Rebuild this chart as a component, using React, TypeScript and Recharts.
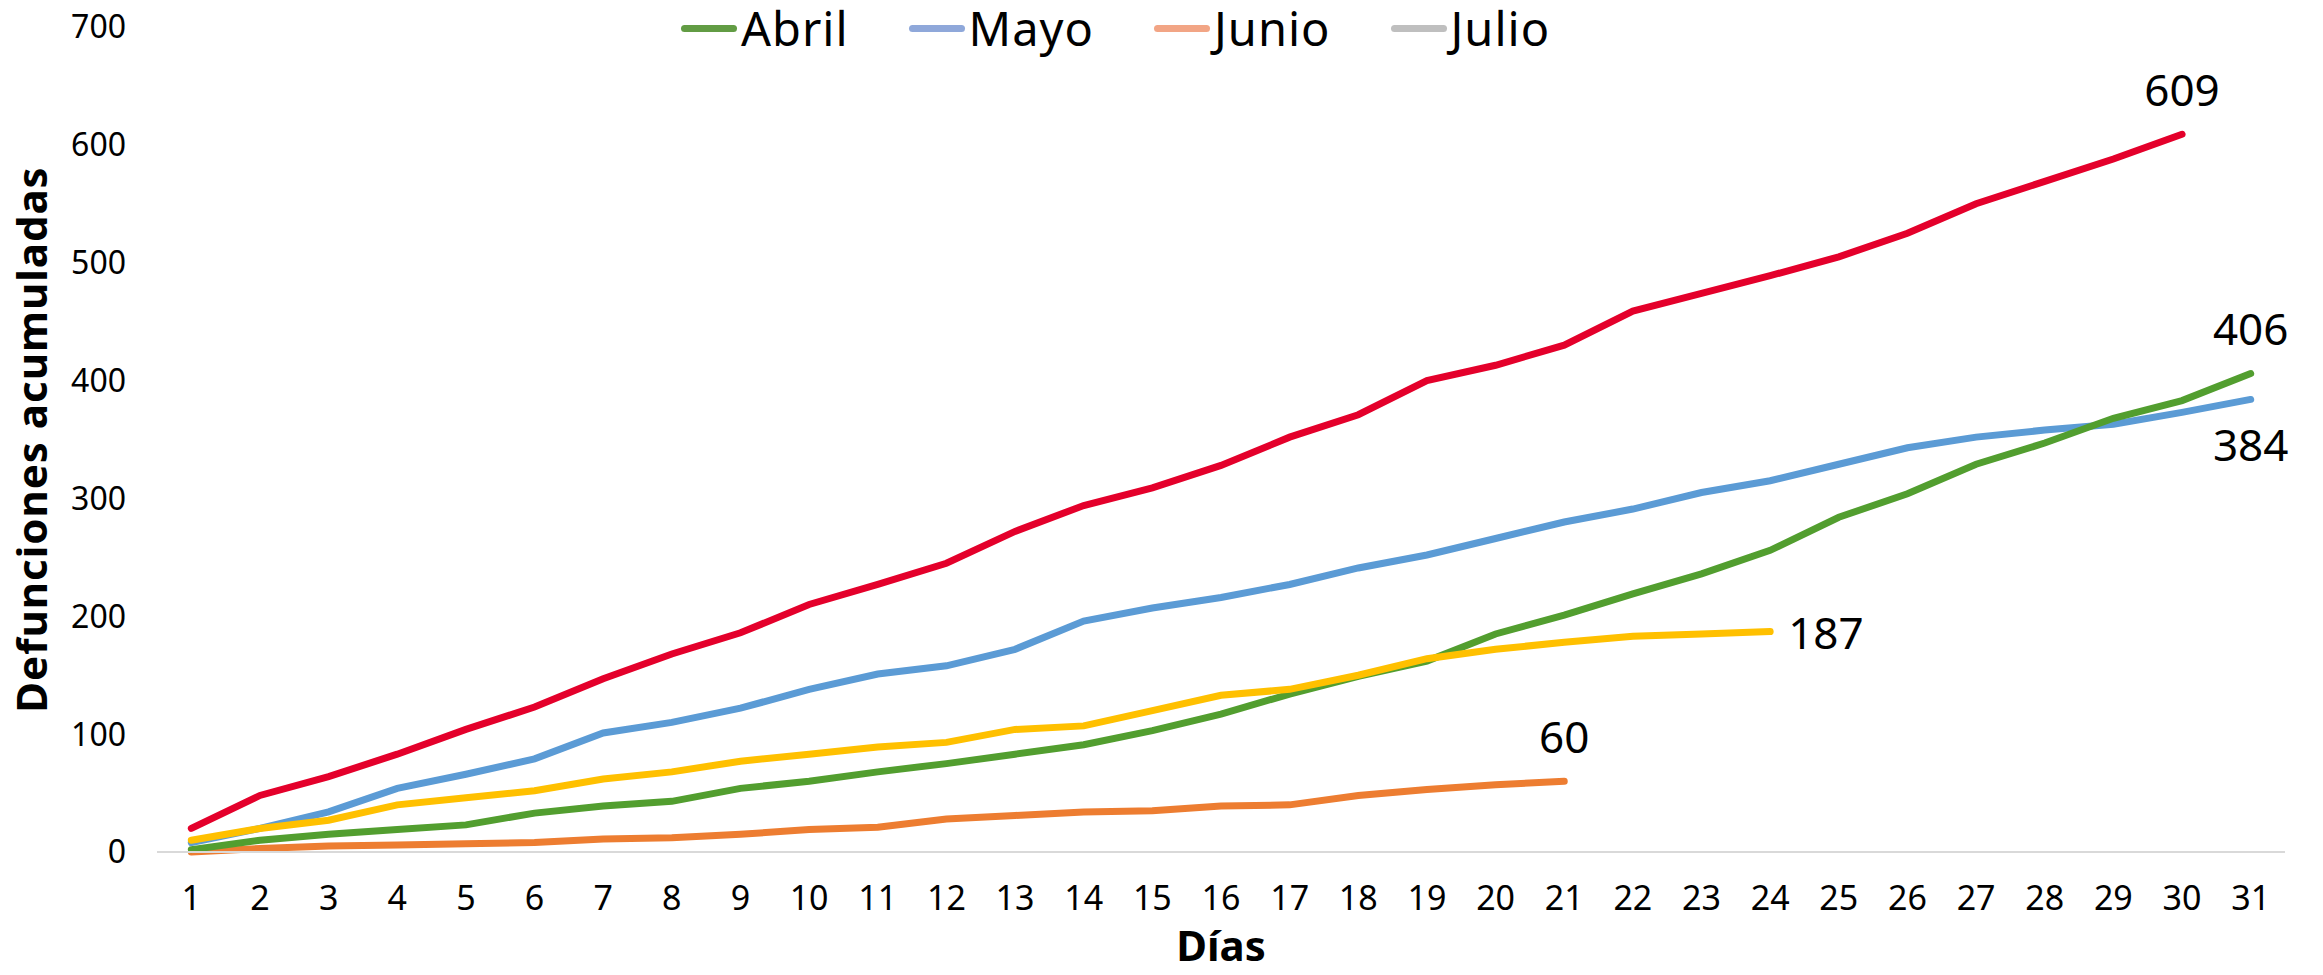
import { LineChart, Line, XAxis, YAxis, LabelList } from 'recharts';

const days = Array.from({ length: 31 }, (_, i) => i + 1);
const yTicks = [0, 100, 200, 300, 400, 500, 600, 700];

// series (cumulative deaths per day)
const abril = [2, 10, 15, 19, 23, 33, 39, 43, 54, 60, 68, 75, 83, 91, 103, 117, 134, 149, 162, 185, 201, 219, 236, 256, 284, 304, 329, 347, 368, 383, 406];
const mayo = [8, 20, 34, 54, 66, 79, 101, 110, 122, 138, 151, 158, 172, 196, 207, 216, 227, 241, 252, 266, 280, 291, 305, 315, 329, 343, 352, 358, 363, 373, 384];
const junio = [0, 3, 5, 6, 7, 8, 11, 12, 15, 19, 21, 28, 31, 34, 35, 39, 40, 48, 53, 57, 60];
const amarilla = [10, 20, 27, 40, 46, 52, 62, 68, 77, 83, 89, 93, 104, 107, 120, 133, 138, 150, 164, 172, 178, 183, 185, 187];
const roja = [20, 48, 64, 83, 104, 123, 147, 168, 186, 210, 227, 245, 272, 294, 309, 328, 352, 371, 400, 413, 430, 459, 474, 489, 505, 525, 550, 569, 588, 609];

const legendItems = [
  { name: 'Abril', color: '#629C44' },
  { name: 'Mayo', color: '#8FA8DA' },
  { name: 'Junio', color: '#F2A585' },
  { name: 'Julio', color: '#BFBFBF' },
];

const data = days.map((d, i) => ({
  day: d,
  abril: abril[i],
  mayo: mayo[i],
  junio: junio[i],
  amarilla: amarilla[i],
  roja: roja[i],
}));

const FONT = "'Noto Sans', sans-serif";

const endLabel = (len: number, dx: number, dy: number, anchor: string) => (props: any) => {
  const { x, y, index, value } = props;
  if (index !== len - 1) return null;
  return (
    <text x={x + dx} y={y + dy} textAnchor={anchor} dominantBaseline="central" fontSize={44} fontFamily={FONT} fill="#000">
      {value}
    </text>
  );
};

const YTitle = (props: any) => {
  const { viewBox } = props;
  const cy = viewBox.y + viewBox.height / 2;
  return (
    <text x={30} y={cy} transform={`rotate(-90 30 ${cy})`} textAnchor="middle" dominantBaseline="central" fontSize={42} letterSpacing={1} fontWeight={700} fontFamily={FONT} fill="#000">
      Defunciones acumuladas
    </text>
  );
};

export default function App() {
  return (
    <div style={{ margin: -8, width: 2323, height: 975, background: '#fff', position: 'relative' }}>
      <div style={{ position: 'absolute', top: 0, left: 681, height: 56, display: 'flex', alignItems: 'center', fontFamily: FONT, fontSize: 47, letterSpacing: 1, zIndex: 2 }}>
        {legendItems.map((it) => (
          <div key={it.name} style={{ display: 'flex', alignItems: 'center', marginRight: 60 }}>
            <div style={{ width: 56, height: 7, borderRadius: 3.5, background: it.color, marginRight: 4 }} />
            <span style={{ color: '#000', lineHeight: '56px' }}>{it.name}</span>
          </div>
        ))}
      </div>
      <LineChart width={2323} height={975} data={data} margin={{ top: 27, right: 38, left: 0, bottom: 0 }}>
        <XAxis
          dataKey="day"
          type="number"
          domain={[0.5, 31.5]}
          ticks={days}
          interval={0}
          height={123}
          tickLine={false}
          tickMargin={28}
          axisLine={{ stroke: '#D9D9D9', strokeWidth: 2 }}
          tick={{ fill: '#000', fontSize: 34, fontFamily: FONT }}
          label={{ value: 'Días', position: 'insideBottom', offset: 14, fontSize: 42, fontWeight: 700, fontFamily: FONT, fill: '#000' }}
        />
        <YAxis
          domain={[0, 700]}
          ticks={yTicks}
          width={157}
          axisLine={false}
          tickLine={false}
          tickMargin={25}
          tick={{ fill: '#000', fontSize: 32, fontFamily: FONT }}
          label={<YTitle />}
        />
        <Line dataKey="junio" stroke="#ED7D31" strokeWidth={7} dot={false} isAnimationActive={false} strokeLinecap="round">
          <LabelList dataKey="junio" content={endLabel(junio.length, 0, -45, 'middle')} />
        </Line>
        <Line dataKey="mayo" stroke="#5B9BD5" strokeWidth={7} dot={false} isAnimationActive={false} strokeLinecap="round">
          <LabelList dataKey="mayo" content={endLabel(mayo.length, 0, 45, 'middle')} />
        </Line>
        <Line dataKey="abril" stroke="#529E2F" strokeWidth={7} dot={false} isAnimationActive={false} strokeLinecap="round">
          <LabelList dataKey="abril" content={endLabel(abril.length, 0, -46, 'middle')} />
        </Line>
        <Line dataKey="amarilla" stroke="#FFC000" strokeWidth={7} dot={false} isAnimationActive={false} strokeLinecap="round">
          <LabelList dataKey="amarilla" content={endLabel(amarilla.length, 18, 0, 'start')} />
        </Line>
        <Line dataKey="roja" stroke="#E4002B" strokeWidth={7} dot={false} isAnimationActive={false} strokeLinecap="round">
          <LabelList dataKey="roja" content={endLabel(roja.length, 0, -45, 'middle')} />
        </Line>
      </LineChart>
    </div>
  );
}
